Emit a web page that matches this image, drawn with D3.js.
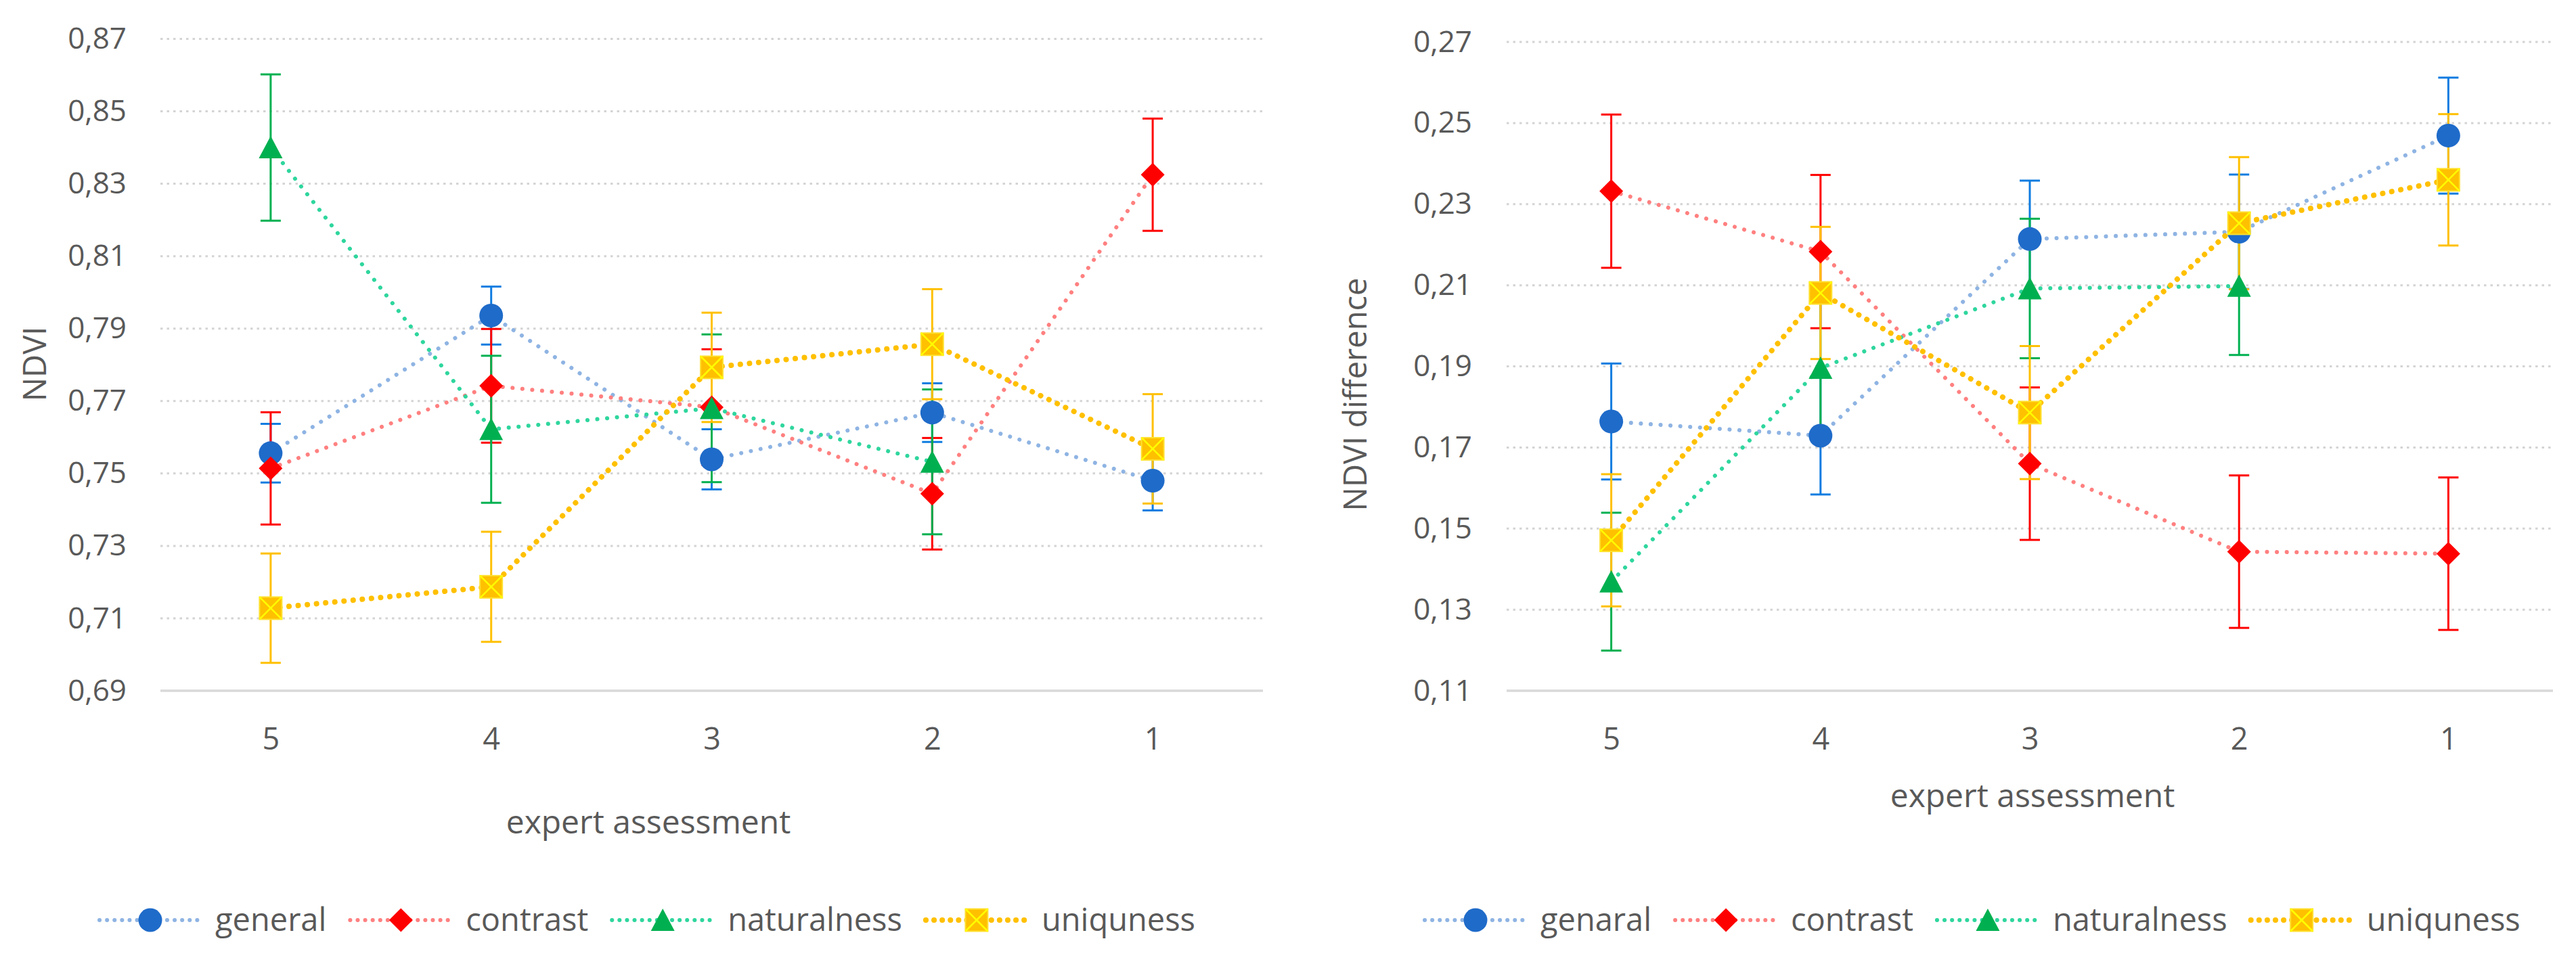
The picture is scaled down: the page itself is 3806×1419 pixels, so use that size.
<!DOCTYPE html>
<html>
<head>
<meta charset="utf-8">
<script src="https://cdn.jsdelivr.net/npm/d3@7"></script>
<style>
  body { margin: 0; background: #fff; }
  text { font-family: 'Open Sans', sans-serif; fill: #595959; }
</style>
</head>
<body>
<svg id="chart" width="3806" height="1419"></svg>
<script>
// categories (expert assessment)
var categories = ['5', '4', '3', '2', '1'];

// left chart: NDVI
var ndviTicks = [0.69, 0.71, 0.73, 0.75, 0.77, 0.79, 0.81, 0.83, 0.85, 0.87];
var ndviNames = ['general', 'contrast', 'naturalness', 'uniquness'];
var ndviGeneral = [0.7556, 0.7936, 0.7539, 0.7668, 0.7480];
var ndviGeneralErr = [0.0081, 0.0080, 0.0083, 0.0081, 0.0082];
var ndviContrast = [0.7514, 0.7742, 0.7683, 0.7444, 0.8325];
var ndviContrastErr = [0.0155, 0.0157, 0.0160, 0.0154, 0.0155];
var ndviNaturalness = [0.8400, 0.7622, 0.7680, 0.7532, null];
var ndviNaturalnessErr = [0.0202, 0.0203, 0.0204, 0.0200, null];
var ndviUniquness = [0.7128, 0.7187, 0.7793, 0.7857, 0.7568];
var ndviUniqunessErr = [0.0151, 0.0152, 0.0151, 0.0152, 0.0151];

// right chart: NDVI difference
var diffTicks = [0.11, 0.13, 0.15, 0.17, 0.19, 0.21, 0.23, 0.25, 0.27];
var diffNames = ['genaral', 'contrast', 'naturalness', 'uniquness'];
var diffGeneral = [0.1764, 0.1729, 0.2214, 0.2232, 0.2469];
var diffGeneralErr = [0.0143, 0.0145, 0.0144, 0.0141, 0.0143];
var diffContrast = [0.2332, 0.2183, 0.1660, 0.1443, 0.1438];
var diffContrastErr = [0.0189, 0.0189, 0.0188, 0.0188, 0.0188];
var diffNaturalness = [0.1369, 0.1896, 0.2092, 0.2098, null];
var diffNaturalnessErr = [0.0170, 0.0170, 0.0172, 0.0170, null];
var diffUniquness = [0.1471, 0.2081, 0.1786, 0.2253, 0.2360];
var diffUniqunessErr = [0.0163, 0.0163, 0.0164, 0.0163, 0.0162];

// look of the four series
var seriesStyle = [
  { shape: 'circle', marker: '#1f6bc9', line: '#8fb4e3', err: '#0f7ce0', width: 6 },
  { shape: 'diamond', marker: '#ff0000', line: '#ff8080', err: '#ff0000', width: 6 },
  { shape: 'triangle', marker: '#00b050', line: '#2fd69e', err: '#00b050', width: 6 },
  { shape: 'square', marker: '#ffc000', line: '#ffc000', err: '#ffc000', width: 8 }
];

var svg = d3.select('#chart');

function fmt(v) {
  return d3.format('.2f')(v).replace('.', ',');
}

// draw one marker at (0,0) into group g
function drawMarker(g, style) {
  var s = 17.5;
  if(style.shape == 'circle') {
    g.append('circle').attr('r', s).attr('fill', style.marker);
  } else if(style.shape == 'diamond') {
    g.append('path')
        .attr('d', 'M0,' + (-s) + 'L' + s + ',0L0,' + s + 'L' + (-s) + ',0Z')
        .attr('fill', style.marker);
  } else if(style.shape == 'triangle') {
    g.append('path')
        .attr('d', 'M0,-17L17.5,16L-17.5,16Z')
        .attr('fill', style.marker);
  } else {
    var h = 16.5;
    g.append('rect')
        .attr('x', -h).attr('y', -h)
        .attr('width', 2 * h).attr('height', 2 * h)
        .attr('fill', style.marker)
        .attr('stroke', '#ffe030')
        .attr('stroke-width', 2);
    g.append('path')
        .attr('d', 'M' + (-h) + ',' + (-h) + 'L' + h + ',' + h
            + 'M' + h + ',' + (-h) + 'L' + (-h) + ',' + h)
        .attr('stroke', '#ffff00')
        .attr('stroke-width', 2.5);
  }
}

function drawChart(cfg) {
  var x = d3.scalePoint()
      .domain(categories)
      .range([cfg.left, cfg.right])
      .padding(0.5);
  var y = d3.scaleLinear()
      .domain([cfg.ticks[0], cfg.ticks[cfg.ticks.length - 1]])
      .range([cfg.bottom, cfg.top]);

  var g = svg.append('g');

  // grid
  g.append('g')
      .selectAll('line')
      .data(cfg.ticks.slice(1))
      .enter().append('line')
          .attr('x1', cfg.left).attr('x2', cfg.right)
          .attr('y1', function(d) { return y(d); })
          .attr('y2', function(d) { return y(d); })
          .attr('stroke', '#d4d4d4')
          .attr('stroke-width', 3)
          .attr('stroke-dasharray', '3.5,6');

  // base line
  g.append('line')
      .attr('x1', cfg.left).attr('x2', cfg.right)
      .attr('y1', y(cfg.ticks[0])).attr('y2', y(cfg.ticks[0]))
      .attr('stroke', '#d9d9d9')
      .attr('stroke-width', 3.5);

  // y axis labels
  var yAxis = g.append('g')
      .attr('transform', 'translate(' + cfg.tickX + ',0)')
      .call(d3.axisLeft(y).tickValues(cfg.ticks).tickSize(0).tickPadding(0).tickFormat(fmt));
  yAxis.select('.domain').remove();
  yAxis.selectAll('text')
      .style('font-size', '44px')
      .attr('fill', '#595959');

  // x axis labels
  var xAxis = g.append('g')
      .attr('transform', 'translate(0,' + cfg.xTickY + ')')
      .call(d3.axisBottom(x).tickSize(0).tickPadding(0));
  xAxis.select('.domain').remove();
  xAxis.selectAll('text')
      .style('font-size', '45px')
      .attr('fill', '#595959')
      .attr('dy', 0);

  // axis titles
  g.append('text')
      .attr('x', cfg.xTitleX)
      .attr('y', cfg.xTitleY)
      .attr('text-anchor', 'middle')
      .style('font-size', '48px')
      .text('expert assessment');
  g.append('text')
      .attr('transform', 'translate(' + cfg.yTitleX + ',' + cfg.yTitleY + ') rotate(-90)')
      .attr('text-anchor', 'middle')
      .attr('dy', '0.35em')
      .style('font-size', '47px')
      .text(cfg.yTitle);

  var rows = cfg.values.map(function(vals, i) {
    return vals.map(function(v, j) {
      return { cat: categories[j], v: v, e: cfg.errors[i][j] };
    });
  });

  var line = d3.line()
      .defined(function(d) { return d.v != null; })
      .x(function(d) { return x(d.cat); })
      .y(function(d) { return y(d.v); });

  // lines
  rows.forEach(function(row, i) {
    var st = seriesStyle[i];
    g.append('path')
        .datum(row)
        .attr('d', line)
        .attr('fill', 'none')
        .attr('stroke', st.line)
        .attr('stroke-width', st.width)
        .attr('stroke-linecap', 'round')
        .attr('stroke-dasharray', '0.1,' + (st.width == 8 ? 13.5 : 14.5));
  });

  // error bars
  rows.forEach(function(row, i) {
    var st = seriesStyle[i];
    var eg = g.append('g')
        .attr('stroke', st.err)
        .attr('stroke-width', 3);
    row.filter(function(d) { return d.v != null; }).forEach(function(d) {
      var cx = x(d.cat);
      var y1 = y(d.v + d.e);
      var y2 = y(d.v - d.e);
      eg.append('line').attr('x1', cx).attr('x2', cx).attr('y1', y1).attr('y2', y2);
      eg.append('line').attr('x1', cx - 15).attr('x2', cx + 15).attr('y1', y1).attr('y2', y1);
      eg.append('line').attr('x1', cx - 15).attr('x2', cx + 15).attr('y1', y2).attr('y2', y2);
    });
  });

  // markers
  rows.forEach(function(row, i) {
    var st = seriesStyle[i];
    row.filter(function(d) { return d.v != null; }).forEach(function(d) {
      var mg = g.append('g')
          .attr('transform', 'translate(' + x(d.cat) + ',' + y(d.v) + ')');
      drawMarker(mg, st);
    });
  });

  // legend
  var lx = cfg.legendX;
  var ly = 1360;
  cfg.names.forEach(function(name, i) {
    var st = seriesStyle[i];
    var lg = g.append('g');
    lg.append('line')
        .attr('x1', lx + 3).attr('x2', lx + 155)
        .attr('y1', ly).attr('y2', ly)
        .attr('stroke', st.line)
        .attr('stroke-width', st.width)
        .attr('stroke-linecap', 'round')
        .attr('stroke-dasharray', '0.1,' + (st.width == 8 ? 12 : 11));
    var mg = lg.append('g')
        .attr('transform', 'translate(' + (lx + 78) + ',' + ly + ')');
    drawMarker(mg, st);
    var t = lg.append('text')
        .attr('x', lx + 174)
        .attr('y', ly)
        .attr('dy', '0.35em')
        .style('font-size', '47px')
        .text(name);
    lx = lx + 174 + t.node().getComputedTextLength() + 32;
  });
}

drawChart({
  left: 237, right: 1866, top: 57.5, bottom: 1021,
  ticks: ndviTicks, tickX: 187, xTickY: 1108,
  xTitleX: 958, xTitleY: 1232,
  yTitle: 'NDVI', yTitleX: 52, yTitleY: 538,
  legendX: 144,
  names: ndviNames,
  values: [ndviGeneral, ndviContrast, ndviNaturalness, ndviUniquness],
  errors: [ndviGeneralErr, ndviContrastErr, ndviNaturalnessErr, ndviUniqunessErr]
});

drawChart({
  left: 2226, right: 3772, top: 62, bottom: 1021,
  ticks: diffTicks, tickX: 2175, xTickY: 1108,
  xTitleX: 3003, xTitleY: 1193,
  yTitle: 'NDVI difference', yTitleX: 2003, yTitleY: 583,
  legendX: 2102,
  names: diffNames,
  values: [diffGeneral, diffContrast, diffNaturalness, diffUniquness],
  errors: [diffGeneralErr, diffContrastErr, diffNaturalnessErr, diffUniqunessErr]
});
</script>
</body>
</html>
